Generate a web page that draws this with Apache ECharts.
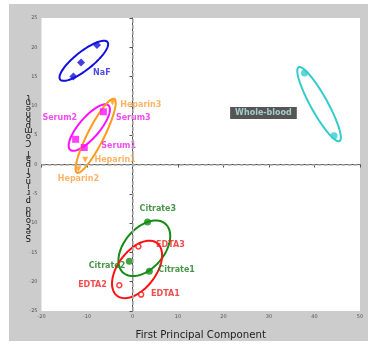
<!DOCTYPE html>
<html>
<head>
<meta charset="utf-8">
<style>
  html, body { margin: 0; padding: 0; background: #fff; }
  #chart { width: 368px; height: 345px; }
</style>
<script src="https://cdn.jsdelivr.net/npm/echarts@6/dist/echarts.min.js"></script>
</head>
<body>
<div id="chart"></div>
<script>
// PCA scores of blood collection tubes, grouped by additive
const xTicks = [-20, -10, 0, 10, 20, 30, 40, 50];
const yTicks = [-25, -20, -15, -10, -5, 0, 5, 10, 15, 20, 25];

const nafNames = ['NaF1', 'NaF2', 'NaF3'];
const nafValues = [[-7.8, 20.4], [-11.3, 17.4], [-13.0, 15.0]];

const serumNames = ['Serum1', 'Serum2', 'Serum3'];
const serumValues = [[-10.6, 2.9], [-12.5, 4.3], [-6.4, 9.0]];

const heparinNames = ['Heparin1', 'Heparin2', 'Heparin3'];
const heparinValues = [[-10.4, 0.8], [-11.9, -0.8], [-4.4, 10.6]];

const bloodNames = ['Whole-blood1', 'Whole-blood2'];
const bloodValues = [[37.8, 15.6], [44.3, 4.9]];

const citrateNames = ['Citrate1', 'Citrate2', 'Citrate3'];
const citrateValues = [[3.7, -18.2], [-0.7, -16.5], [3.3, -9.8]];

const edtaNames = ['EDTA1', 'EDTA2', 'EDTA3'];
const edtaValues = [[1.9, -22.2], [-2.9, -20.6], [1.3, -14.0]];

// Confidence ellipses: [centre x, centre y, major tip x, major tip y, minor/major ratio]
const nafEllipse = [-10.7, 17.7, -5.5, 20.9, 0.3];
const serumEllipse = [-9.5, 6.3, -5.3, 10.1, 0.35];
const heparinEllipse = [-8.1, 4.9, -4.0, 11.2, 0.2];
const bloodEllipse = [41.0, 10.3, 36.5, 16.6, 0.2];
const citrateEllipse = [2.6, -14.3, 7.2, -10.1, 0.62];
const edtaEllipse = [1.0, -17.9, 5.4, -13.4, 0.57];

// Where each group's text sits relative to its point (pixels from the point centre)
const labelPlacement = {
  NaF2: { text: 'NaF', offset: [12, 10.5], align: 'left' },
  Serum1: { offset: [17, -1.5], align: 'left' },
  Serum2: { offset: [1.5, -21], align: 'right' },
  Serum3: { offset: [12.5, 5.7], align: 'left' },
  Heparin1: { offset: [9.3, 0], align: 'left' },
  Heparin2: { offset: [-20.6, 10], align: 'left' },
  Heparin3: { offset: [7.7, 2.4], align: 'left' },
  'Whole-blood2': { text: 'Whole-blood', offset: [-70.6, -22.7], align: 'center', box: true },
  Citrate1: { offset: [9, -1.7], align: 'left' },
  Citrate2: { offset: [-4, 4.3], align: 'right' },
  Citrate3: { offset: [-8, -13.3], align: 'left' },
  EDTA1: { offset: [10.7, 0.3], align: 'left' },
  EDTA2: { offset: [-11.7, 0.7], align: 'right' },
  EDTA3: { offset: [18.4, -0.7], align: 'left' }
};

const labelFont = 'DejaVu Sans';

function pointData(names, values, labelColor, size) {
  return values.map((v, i) => {
    const name = names[i];
    const p = labelPlacement[name];
    const item = { name: name, value: v };
    if (p) {
      const lab = {
        show: true,
        // position is measured from the symbol's top-left corner
        position: [size / 2 + p.offset[0], size / 2 + p.offset[1]],
        formatter: p.text || name,
        align: p.align,
        verticalAlign: 'middle',
        fontFamily: labelFont,
        fontWeight: 'bold',
        fontSize: 8,
        color: labelColor
      };
      if (p.box) {
        lab.backgroundColor = '#2b2b2b';
        lab.padding = [2, 5, 2, 5];
        lab.color = '#b8e6ea';
      }
      item.label = lab;
    } else {
      item.label = { show: false };
    }
    return item;
  });
}

function ellipseSeries(params, color) {
  return {
    type: 'custom',
    silent: true,
    clip: false,
    z: 3,
    data: [params],
    encode: { x: 0, y: 1 },
    renderItem: function (p, api) {
      const c = api.coord([api.value(0), api.value(1)]);
      const t = api.coord([api.value(2), api.value(3)]);
      const ratio = api.value(4);
      const ux = t[0] - c[0], uy = t[1] - c[1];
      const vx = -uy * ratio, vy = ux * ratio;
      const pts = [];
      const n = 90;
      for (let k = 0; k < n; k++) {
        const a = (k / n) * Math.PI * 2;
        pts.push([c[0] + ux * Math.cos(a) + vx * Math.sin(a),
                  c[1] + uy * Math.cos(a) + vy * Math.sin(a)]);
      }
      return {
        type: 'polygon',
        shape: { points: pts },
        style: { fill: 'none', stroke: color, lineWidth: 2 }
      };
    }
  };
}

function scatterSeries(names, values, opts) {
  return {
    type: 'scatter',
    z: 4,
    symbol: opts.symbol,
    symbolSize: opts.size,
    symbolRotate: opts.rotate || 0,
    itemStyle: opts.itemStyle,
    data: pointData(names, values, opts.labelColor, opts.size),
    labelLayout: { hideOverlap: false }
  };
}

const chart = echarts.init(document.getElementById('chart'), null, { renderer: 'canvas' });

const yLabel = 'Second Principal Component';

chart.setOption({
  animation: false,
  backgroundColor: '#ffffff',
  graphic: [
    {
      type: 'rect',
      z: -10,
      silent: true,
      shape: { x: 9, y: 4, width: 359, height: 337 },
      style: { fill: '#cccccc' }
    },
    {
      type: 'text',
      z: 10,
      x: 28.4,
      y: 167,
      rotation: Math.PI,
      style: {
        text: yLabel.split('').join('\n'),
        fontFamily: labelFont,
        fontSize: 8.5,
        lineHeight: 5.6,
        fill: '#111',
        align: 'center',
        verticalAlign: 'middle'
      }
    }
  ],
  grid: {
    left: 41.5,
    right: 8,
    top: 18,
    bottom: 29.5,
    show: true,
    backgroundColor: '#ffffff',
    borderWidth: 0
  },
  xAxis: {
    type: 'value',
    min: xTicks[0],
    max: xTicks[xTicks.length - 1],
    interval: 10,
    name: 'First Principal Component',
    nameLocation: 'middle',
    nameGap: 19,
    nameTextStyle: { fontFamily: labelFont, fontSize: 10.2, color: '#222' },
    axisLine: { show: true, lineStyle: { color: '#555', width: 1 } },
    axisTick: { show: true, length: 3, lineStyle: { color: '#555' } },
    axisLabel: { fontSize: 5, color: '#555', margin: 3, fontFamily: labelFont },
    splitLine: { show: false }
  },
  yAxis: {
    type: 'value',
    min: yTicks[0],
    max: yTicks[yTicks.length - 1],
    interval: 5,
    axisLine: { show: true, lineStyle: { color: '#555', width: 1 } },
    axisTick: { show: true, length: 3, lineStyle: { color: '#555' } },
    axisLabel: { fontSize: 5, color: '#555', margin: 4, fontFamily: labelFont },
    splitLine: { show: false }
  },
  series: [
    {
      type: 'line',
      data: [],
      silent: true,
      z: 1,
      markLine: {
        silent: true,
        symbol: 'none',
        label: { show: false },
        lineStyle: { color: '#b0b0b0', type: [4, 2], width: 1.5 },
        data: [{ xAxis: 0 }, { yAxis: 0 }]
      }
    },
    ellipseSeries(nafEllipse, '#1010dd'),
    ellipseSeries(serumEllipse, '#ff10ff'),
    ellipseSeries(heparinEllipse, '#ff9a1a'),
    ellipseSeries(bloodEllipse, '#33cccc'),
    ellipseSeries(citrateEllipse, '#128c12'),
    ellipseSeries(edtaEllipse, '#ff1010'),
    scatterSeries(nafNames, nafValues, {
      symbol: 'diamond', size: 8, labelColor: '#2020dd',
      itemStyle: { color: '#1010dd' }
    }),
    scatterSeries(serumNames, serumValues, {
      symbol: 'rect', size: 7, labelColor: '#ee22ee',
      itemStyle: { color: '#ff10ff' }
    }),
    scatterSeries(heparinNames, heparinValues, {
      symbol: 'triangle', size: 6, rotate: 180, labelColor: '#ffa040',
      itemStyle: { color: '#ff9a1a' }
    }),
    scatterSeries(bloodNames, bloodValues, {
      symbol: 'circle', size: 7, labelColor: '#b8e6ea',
      itemStyle: { color: '#33cccc' }
    }),
    scatterSeries(citrateNames, citrateValues, {
      symbol: 'circle', size: 7, labelColor: '#1a7a1a',
      itemStyle: { color: '#128c12' }
    }),
    scatterSeries(edtaNames, edtaValues, {
      symbol: 'circle', size: 5, labelColor: '#ee2020',
      itemStyle: { color: '#ffffff', borderColor: '#ff1010', borderWidth: 1.5 }
    })
  ]
});
</script>
</body>
</html>
